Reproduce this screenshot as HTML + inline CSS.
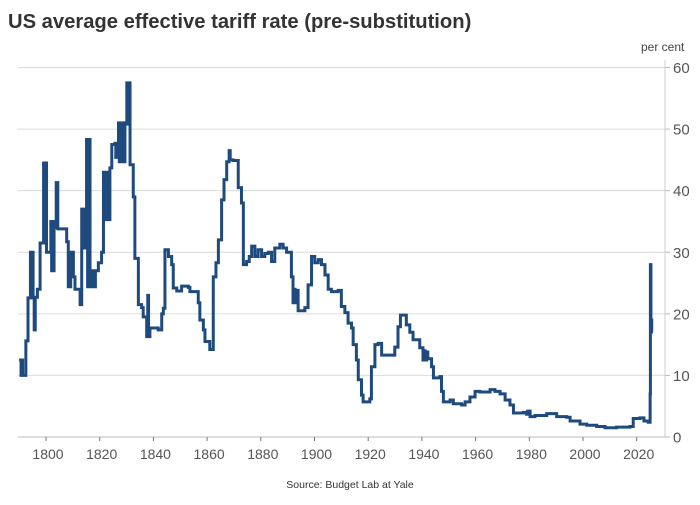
<!DOCTYPE html>
<html><head><meta charset="utf-8"><style>
body{margin:0;background:#fff;}
svg text{font-family:"Liberation Sans","DejaVu Sans",sans-serif;}
</style></head><body>
<svg id="chart" width="700" height="500" xmlns="http://www.w3.org/2000/svg">
<text x="8" y="28" font-size="20.2" font-weight="bold" fill="#333">US average effective tariff rate (pre-substitution)</text>
<text x="641" y="51" font-size="12" fill="#444">per cent</text>
<text x="350" y="488" font-size="10.5" fill="#333" text-anchor="middle">Source: Budget Lab at Yale</text>
<g id="grid"></g><g id="axes"></g><g id="series"></g>
</svg>
<script>
const yTicks=[0,10,20,30,40,50,60];
const xTicks=[1800,1820,1840,1860,1880,1900,1920,1940,1960,1980,2000,2020];
const years=[1790,1790.7,1791,1791.3,1792.5,1793.3,1794.2,1794.5,1794.8,1795.2,1795.6,1796,1796.8,1797.8,1799.1,1799.4,1799.7,1800.2,1801.8,1802.1,1802.4,1802.7,1803,1803.8,1804.4,1807.7,1808.3,1808.6,1808.9,1809.2,1810.2,1810.8,1812.7,1813.3,1813.6,1813.9,1814.2,1815.1,1815.5,1815.8,1816.4,1816.8,1817.2,1817.6,1818,1818.4,1819.5,1820.7,1821.4,1821.7,1822,1822.3,1822.6,1822.9,1823.8,1824.5,1825.7,1826,1827,1827.3,1827.6,1827.9,1828.2,1828.5,1829.4,1830.1,1830.5,1830.9,1831.3,1832.5,1833.1,1834.4,1835.6,1836.2,1837.5,1837.9,1838.2,1838.7,1841.8,1843.1,1843.7,1844.3,1845.6,1846.8,1847.4,1848.7,1850.5,1853,1853.6,1856.7,1857.3,1858.6,1859.2,1861,1862.3,1863.3,1864.2,1865.4,1866.3,1867.3,1868.2,1868.6,1869.7,1871.6,1872.8,1873.5,1874.7,1875.7,1876.6,1877.8,1879,1880.3,1881.5,1882.8,1884,1885.2,1887.1,1888.3,1889.6,1891.4,1892,1892.4,1892.8,1893.3,1893.9,1896.4,1897.6,1898.9,1900.1,1901.4,1902.6,1903.9,1905.1,1906.3,1908.8,1910,1911.3,1912.5,1913.8,1914.4,1915.6,1916.3,1917.5,1918.1,1920.6,1921.2,1922.5,1923.7,1925,1928.7,1929.9,1931.1,1932,1934.2,1935.5,1936.7,1939.2,1940.4,1940.8,1941.2,1941.8,1942.2,1943.6,1944.3,1946.7,1947.3,1948,1950.5,1951.7,1954.8,1956.1,1957.9,1959.8,1961.6,1965.4,1967.2,1969.1,1971,1972.8,1974.1,1977.8,1979,1979.4,1980.3,1982.1,1986.5,1990.2,1993.9,1995.2,1998.9,2001.4,2005.1,2008.2,2012.5,2017.5,2018.7,2021.2,2022.7,2024.3,2025,2025.1,2025.3,2025.45,2025.6,2025.8];
const rates=[12.5,10,12.5,10,15.6,22.6,30,22.6,30,22.6,17.4,22.7,24,31.5,44.5,31.5,44.5,30,35,27,35,27,34,41.3,33.8,31.7,24.4,30,24.4,30,26,24,21.5,37,30.7,37,30.7,48.3,24.4,48.3,24.4,27,24.4,27,24.4,27,28.3,30,43,35.3,43,35.3,43,35.3,43.7,47.5,47.7,45.4,51,44.7,51,44.7,51,44.7,51,57.5,50.8,57.5,44.2,39,29,21.5,21,19.5,16.3,23,16.3,17.7,17.4,20,20.9,30.4,29.3,28,24.2,23.7,24.5,24.3,23.6,21.8,19,17.4,15.5,14.2,26,28.3,32,38.5,41.8,44.7,46.5,45,44.9,40.5,38,28,28.5,29.3,31,29.3,30.4,29.3,29.8,30,28.5,30.7,31.3,30.7,30,26,21.8,24,21.8,23.8,20.5,21,24.7,29.3,28.3,28.8,28,26.3,24,23.6,23.8,21.2,20.2,18.5,17.7,15,12.5,9.3,6.8,5.7,6.2,11.4,15,15.2,13.3,13.3,14.6,17.9,19.8,18.2,17,15.8,14.5,12.5,14,12.5,13.8,12.7,11.4,9.6,9.8,7.4,5.7,6,5.4,5.2,5.7,6.5,7.4,7.3,7.7,7.4,7,6,5.2,3.9,4,3.7,4.2,3.3,3.5,3.8,3.3,3.2,2.6,2.1,1.9,1.7,1.5,1.6,1.7,3,3.1,2.6,2.4,7,28,17,19,17,17];
const NS='http://www.w3.org/2000/svg';
const L=18,R=665,T=67.5,B=437;
const x=yr=>46+(yr-1800)*2.685;
const y=v=>B-(v/60)*(B-T);
function mk(tag,attrs,parent){const e=document.createElementNS(NS,tag);for(const k in attrs)e.setAttribute(k,attrs[k]);parent.appendChild(e);return e;}
const grid=document.getElementById('grid'),axes=document.getElementById('axes'),series=document.getElementById('series');
yTicks.forEach(t=>{
  if(t>0){const g=mk('line',{x1:L,x2:R,y1:y(t),y2:y(t),stroke:'#dcdcdc','stroke-width':1},grid);
  
  }
  const tk=mk('line',{x1:R,x2:R+5,y1:y(t),y2:y(t),stroke:'#bbb','stroke-width':1},axes);
  
  
  const lb=mk('text',{x:R+8,y:y(t)+5.5,'font-size':15,fill:'#555'},axes);
  lb.textContent=t;
  
  
});
const ya=mk('line',{x1:R,x2:R,y1:60,y2:B,stroke:'#ccc','stroke-width':1},axes);


const xa=mk('line',{x1:L,x2:R,y1:B,y2:B,stroke:'#bbb','stroke-width':1},axes);


xTicks.forEach(t=>{
  const tk=mk('line',{x1:x(t),x2:x(t),y1:B,y2:B+4,stroke:'#777','stroke-width':1},axes);
  
  
  const lb=mk('text',{x:x(t)+2,y:B+22,'font-size':14,fill:'#555','text-anchor':'middle'},axes);
  lb.textContent=t;
  
  
});
let d='M'+x(years[0])+' '+y(rates[0]);
for(let i=1;i<years.length;i++){d+=' H'+x(years[i])+' V'+y(rates[i]);}
const p=mk('path',{d:d,fill:'none',stroke:'#1f4a7e','stroke-width':3,'stroke-linejoin':'miter'},series);


</script>
</body></html>
